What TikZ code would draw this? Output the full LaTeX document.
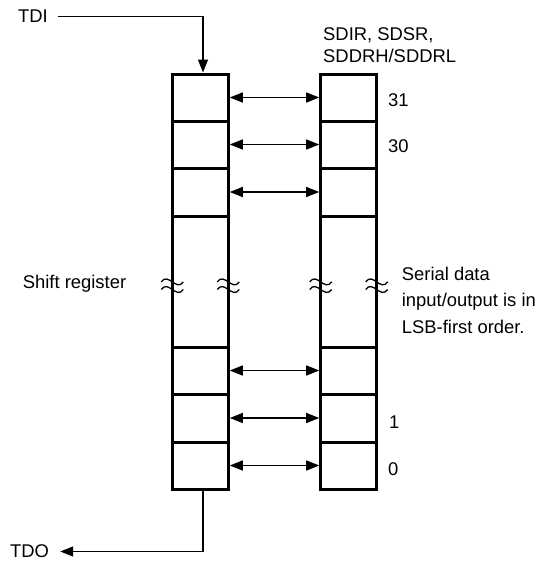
\documentclass[tikz,border=0pt]{standalone}
\usepackage{fontspec}
\setmainfont{Liberation Sans}
\usetikzlibrary{arrows.meta,calc}
\begin{document}
\begin{tikzpicture}[x=1pt,y=-1pt,
  every node/.style={font=\fontsize{18.4}{22}\selectfont, inner sep=0pt},
  cell/.style={draw, line width=3pt, minimum width=56pt},
  label/.style={anchor=base west},
  tip/.tip={Triangle[length=13pt,width=10pt]},
  conn/.style={line width=1.3pt, -tip},
  biarrow/.style={line width=1.3pt, tip-tip},
  brk/.pic={\draw[line width=1.3pt] (-11,-3.8) .. controls (-4,-14) and (4,6.4) .. (11,-3.8);
            \draw[line width=1.3pt] (-11,3.8) .. controls (-4,-6.4) and (4,14) .. (11,3.8);}]
\useasboundingbox (0,0) rectangle (540,563);

% cells
\foreach \col/\x in {L/200.3,R/348.7}{
  \node[cell, minimum height=47pt] (\col1) at (\x,97.5) {};
  \node[cell, minimum height=47pt] (\col2) at (\x,144.5) {};
  \node[cell, minimum height=48pt] (\col3) at (\x,192) {};
  \node[cell, minimum height=131pt] (\col4) at (\x,281.5) {};
  \node[cell, minimum height=47pt] (\col5) at (\x,370.5) {};
  \node[cell, minimum height=48pt] (\col6) at (\x,418) {};
  \node[cell, minimum height=47pt] (\col7) at (\x,465.5) {};
}

% break marks
\foreach \n in {L4,R4}{
  \path ([xshift=1.5pt]\n.west) ++(0,4.2) pic {brk};
  \path ([xshift=-1.5pt]\n.east) ++(0,4.2) pic {brk};
}

% bidirectional arrows
\foreach \r in {1,2,3,5,6,7}{
  \draw[biarrow] (L\r.east) -- (R\r.west);
}

% texts
\node[anchor=west] (TDI) at (18,16.2) {TDI};
\node[anchor=west] (TDO) at (10,551.5) {TDO};
\node[label] (hdr1) at (323,40.7) {SDIR, SDSR,};
\node[label] (hdr2) at (323,62.7) {SDDRH/SDDRL};
\node[label] (b31) at (388,106) {31};
\node[label] (b30) at (388,152) {30};
\node[label] (b1) at (389,428.5) {1};
\node[label] (b0) at (388,475) {0};
\node[label] (shift) at (22.7,288.3) {Shift register};
\node[label] (sd1) at (401.7,280) {Serial data};
\node[label] (sd2) at (401.7,306.5) {input/output is in};
\node[label] (sd3) at (401.7,333) {LSB-first order.};

% TDI / TDO connectors
\draw[conn] ([xshift=10pt]TDI.east) -| ([xshift=2.7pt]L1.north);
\draw[conn] ([xshift=2.7pt]L7.south) |- ([xshift=11pt]TDO.east);
\end{tikzpicture}
\end{document}
